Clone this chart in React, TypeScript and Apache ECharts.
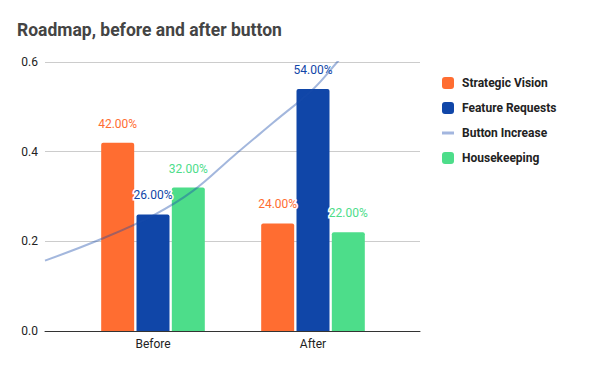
import React, { useEffect, useRef } from "react";
import * as echarts from "echarts";

const categories = ["Before", "After"];
const strategicVision = [0.42, 0.24];
const featureRequests = [0.26, 0.54];
const housekeeping = [0.32, 0.22];
// Trendline points: [category position, value]
const buttonIncrease: [number, number][] = [
  [-0.677, 0.157],
  [-0.333, 0.204],
  [0, 0.258],
  [0.25, 0.313],
  [0.5, 0.39],
  [0.75, 0.465],
  [1, 0.54],
  [1.15, 0.6],
  [1.3, 0.66],
];
const yTicks = [0, 0.2, 0.4, 0.6];

const ORANGE = "#ff6d31";
const BLUE = "#1046a8";
const GREEN = "#4ddd8a";
const FONT = "Roboto";

export default function App() {
  const ref = useRef<HTMLDivElement>(null);
  useEffect(() => {
    if (!ref.current) return;
    const chart = echarts.init(ref.current, undefined, { renderer: "svg" });
    const pct = (p: any) => (p.value * 100).toFixed(2) + "%";
    const barLabel = (color: string) => ({
      show: true,
      position: "top",
      distance: 13,
      formatter: pct,
      color,
      fontFamily: FONT,
      fontSize: 12,
      textBorderColor: "#fff",
      textBorderWidth: 3,
    });
    const top = 62;
    const bottom = 40;
    chart.setOption({
      animation: false,
      backgroundColor: "#fff",
      textStyle: { fontFamily: FONT },
      title: {
        text: "Roadmap, before and after button",
        left: 17,
        top: 21,
        padding: 0,
        textStyle: { fontFamily: FONT, fontSize: 17.5, fontWeight: "bold", color: "#444" },
      },
      legend: {
        orient: "vertical",
        left: 442,
        top: 76,
        padding: 0,
        itemWidth: 12,
        itemHeight: 12,
        itemGap: 11,
        textStyle: { fontFamily: FONT, fontSize: 12, fontWeight: "bold", color: "#222", padding: [0, 0, 0, 3], lineHeight: 14 },
        data: [
          { name: "Strategic Vision", icon: "roundRect" },
          { name: "Feature Requests", icon: "roundRect" },
          { name: "Button Increase", icon: "path://M0,0 h12 v3 h-12 z", itemStyle: { color: "#a3b6df", opacity: 1 } },
          { name: "Housekeeping", icon: "roundRect" },
        ],
      },
      grid: [
        { left: 73, width: 320, top, bottom },
        { left: 45, right: 180, top, bottom },
      ],
      xAxis: [
        {
          type: "category",
          gridIndex: 0,
          data: categories,
          axisLine: { show: false },
          axisTick: { show: false },
          axisLabel: { color: "#222", fontSize: 12, fontFamily: FONT, margin: 7 },
        },
        {
          type: "value",
          gridIndex: 1,
          min: -0.677,
          max: 1.667,
          axisLine: { show: true, onZero: false, lineStyle: { color: "#333", width: 1 } },
          axisTick: { show: false },
          axisLabel: { show: false },
          splitLine: { show: false },
        },
      ],
      yAxis: [
        {
          type: "value",
          gridIndex: 0,
          min: yTicks[0],
          max: yTicks[yTicks.length - 1],
          interval: 0.2,
          show: false,
        },
        {
          type: "value",
          gridIndex: 1,
          min: yTicks[0],
          max: yTicks[yTicks.length - 1],
          interval: 0.2,
          axisLine: { show: false },
          axisTick: { show: false },
          axisLabel: { color: "#222", fontSize: 12, fontFamily: FONT, margin: 7, formatter: (v: number) => v.toFixed(1) },
          splitLine: { lineStyle: { color: "#ccc", width: 1 } },
        },
      ],
      series: [
        {
          name: "Strategic Vision",
          type: "bar",
          xAxisIndex: 0,
          yAxisIndex: 0,
          data: strategicVision,
          barWidth: 33,
          barGap: "7%",
          itemStyle: { color: ORANGE, borderRadius: [2, 2, 0, 0] },
          label: barLabel(ORANGE),
        },
        {
          name: "Feature Requests",
          type: "bar",
          xAxisIndex: 0,
          yAxisIndex: 0,
          data: featureRequests,
          barWidth: 33,
          barGap: "7%",
          itemStyle: { color: BLUE, borderRadius: [2, 2, 0, 0] },
          label: barLabel(BLUE),
        },
        {
          name: "Housekeeping",
          type: "bar",
          xAxisIndex: 0,
          yAxisIndex: 0,
          data: housekeeping,
          barWidth: 33,
          barGap: "7%",
          itemStyle: { color: GREEN, borderRadius: [2, 2, 0, 0] },
          label: barLabel(GREEN),
        },
        {
          name: "Button Increase",
          type: "line",
          xAxisIndex: 1,
          yAxisIndex: 1,
          data: buttonIncrease,
          smooth: 0.4,
          showSymbol: false,
          symbol: "none",
          clip: true,
          z: 3,
          itemStyle: { color: "#a3b6df" },
          lineStyle: { color: "#1a4aab", opacity: 0.4, width: 2 },
        },
      ],
    });
    return () => chart.dispose();
  }, []);
  return <div ref={ref} style={{ position: "fixed", left: 0, top: 0, width: 600, height: 371 }} />;
}
